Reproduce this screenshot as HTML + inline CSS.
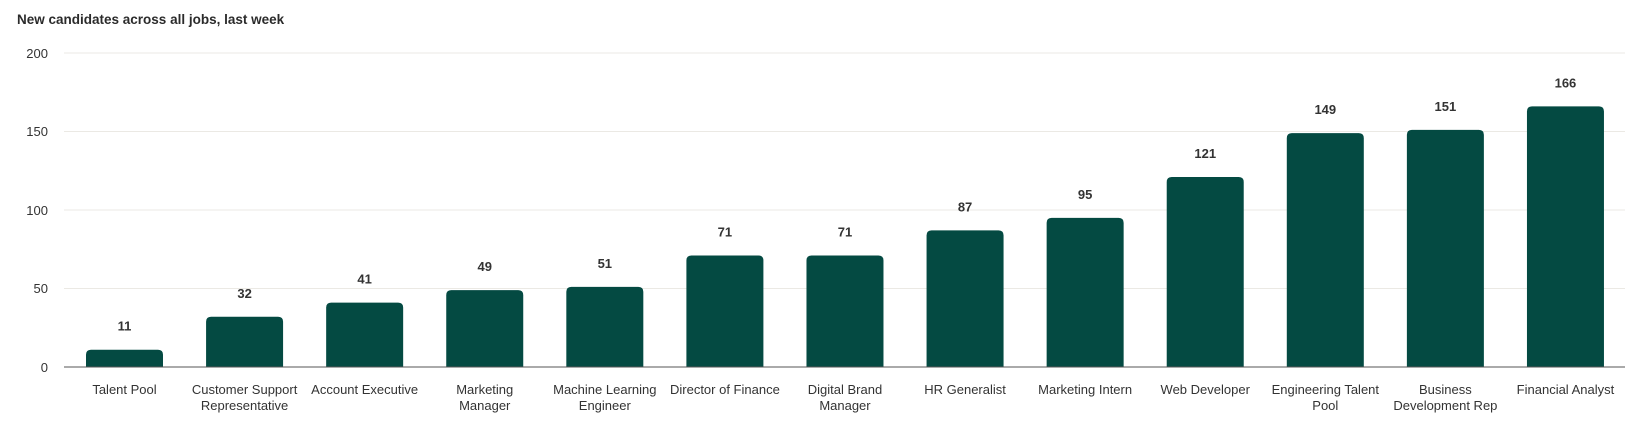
<!DOCTYPE html>
<html><head><meta charset="utf-8"><style>
html,body{margin:0;padding:0;background:#fff;}
svg{display:block;font-family:"Liberation Sans",sans-serif;}
</style></head><body>
<svg width="1633" height="424" viewBox="0 0 1633 424" xmlns="http://www.w3.org/2000/svg">
<text x="17" y="24" font-size="13.5" font-weight="bold" fill="#2b2b2b">New candidates across all jobs, last week</text>
<g stroke="#ebe9e4" stroke-width="1">
<line x1="64" x2="1625" y1="53" y2="53"/>
<line x1="64" x2="1625" y1="131.5" y2="131.5"/>
<line x1="64" x2="1625" y1="210" y2="210"/>
<line x1="64" x2="1625" y1="288.5" y2="288.5"/>
</g>
<g font-size="13" fill="#333" text-anchor="end">
<text x="48" y="58">200</text>
<text x="48" y="136">150</text>
<text x="48" y="215">100</text>
<text x="48" y="293">50</text>
<text x="48" y="372">0</text>
</g>
<g id="bars" fill="#044a42"></g>
<line x1="64" x2="1625" y1="367" y2="367" stroke="#555" stroke-width="1"/>
<g id="vals" font-size="13" font-weight="bold" fill="#333" text-anchor="middle"></g>
<g id="labs" font-size="13" fill="#333" text-anchor="middle"></g>
</svg>
<script>
var d=[[11,["Talent Pool"]],[32,["Customer Support","Representative"]],[41,["Account Executive"]],[49,["Marketing","Manager"]],[51,["Machine Learning","Engineer"]],[71,["Director of Finance"]],[71,["Digital Brand","Manager"]],[87,["HR Generalist"]],[95,["Marketing Intern"]],[121,["Web Developer"]],[149,["Engineering Talent","Pool"]],[151,["Business","Development Rep"]],[166,["Financial Analyst"]]];
var ns="http://www.w3.org/2000/svg",b=document.getElementById("bars"),v=document.getElementById("vals"),l=document.getElementById("labs");
d.forEach(function(e,i){
 var cx=124.5+i*120.08,top=367-e[0]*1.57,h=367-top,w=77,x=cx-w/2,r=5;
 var p=document.createElementNS(ns,"path");
 p.setAttribute("d","M"+x+",367V"+(top+r)+"Q"+x+","+top+" "+(x+r)+","+top+"H"+(x+w-r)+"Q"+(x+w)+","+top+" "+(x+w)+","+(top+r)+"V367Z");
 b.appendChild(p);
 var t=document.createElementNS(ns,"text");t.setAttribute("x",cx);t.setAttribute("y",top-19);t.textContent=e[0];v.appendChild(t);
 e[1].forEach(function(s,j){var t2=document.createElementNS(ns,"text");t2.setAttribute("x",cx);t2.setAttribute("y",394+j*16);t2.textContent=s;l.appendChild(t2);});
});
</script>
</body></html>
